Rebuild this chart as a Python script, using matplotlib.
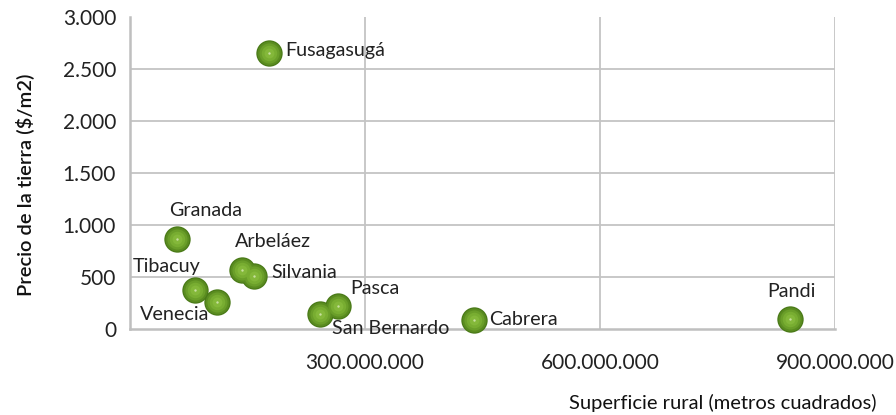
import matplotlib
matplotlib.use("Agg")
import matplotlib.pyplot as plt
from matplotlib.ticker import FuncFormatter, FixedLocator

plt.rcParams['font.family'] = ['Lato', 'DejaVu Sans']

municipios = ["Fusagasugá", "Granada", "Tibacuy", "Venecia", "Arbeláez",
              "Silvania", "San Bernardo", "Pasca", "Cabrera", "Pandi"]
superficie = [178e6, 60e6, 83e6, 111e6, 143e6, 158e6, 243e6, 266e6, 439e6, 843e6]
precio = [2650, 865, 378, 262, 570, 512, 145, 220, 85, 98]
x_ticks = [300e6, 600e6, 900e6]
y_ticks = [0, 500, 1000, 1500, 2000, 2500, 3000]

# label offsets in pixels (dx, dy, ha)
label_pos = {
    "Fusagasugá": (16, 3, "left"),
    "Granada": (29, 29, "center"),
    "Arbeláez": (31, 28, "center"),
    "Tibacuy": (-28, 23, "center"),
    "Silvania": (18, 3, "left"),
    "Venecia": (-42, -13, "center"),
    "Pasca": (37, 18, "center"),
    "San Bernardo": (70, -15, "center"),
    "Cabrera": (15, 1, "left"),
    "Pandi": (1, 27, "center"),
}

fig = plt.figure(figsize=(8.96, 4.15), dpi=100)
ax = fig.add_axes([130/896, (415-329)/415, 705/896, 312/415])
ax.set_xlim(0, 900e6)
ax.set_ylim(0, 3000)

grid_c = "#c4c4c4"
ax.xaxis.set_major_locator(FixedLocator(x_ticks))
ax.yaxis.set_major_locator(FixedLocator(y_ticks))
for xv in x_ticks:
    ax.axvline(xv, color=grid_c, lw=1.3, zorder=0)
for yv in y_ticks[1:-1]:
    ax.axhline(yv, color=grid_c, lw=1.3, zorder=0)

for s in ["top", "right"]:
    ax.spines[s].set_visible(False)
for s in ["left", "bottom"]:
    ax.spines[s].set_color("#bfbfbf")
    ax.spines[s].set_linewidth(1.8)

ax.tick_params(length=0, labelsize=15, colors="#222222")
ax.tick_params(axis='x', pad=17)
ax.tick_params(axis='y', pad=10)
ax.xaxis.set_major_formatter(FuncFormatter(lambda v, p: f"{v:,.0f}".replace(",", ".")))
ax.yaxis.set_major_formatter(FuncFormatter(lambda v, p: f"{v:,.0f}".replace(",", ".")))

# sphere-like markers
layers = [(360, "#4a7a18"), (295, "#5a8c20"), (210, "#6a9e29"), (125, "#78ad31"), (50, "#84b83a")]
for i, (s, c) in enumerate(layers):
    ax.scatter(superficie, precio, s=s, color=c, linewidths=0, zorder=3 + i, clip_on=False)
ax.scatter(superficie, precio, s=3, color="#c8e0a0", linewidths=0, zorder=10, clip_on=False)

for name, xv, yv in zip(municipios, superficie, precio):
    dx, dy, ha = label_pos[name]
    ax.annotate(name, (xv, yv), xytext=(dx, dy), textcoords="offset pixels",
                ha=ha, va="center", fontsize=14.2, color="#222222", zorder=12)

fig.text(876/896, 1 - 403/415, "Superficie rural (metros cuadrados)", ha="right", va="center",
         fontsize=14.5, color="#111111")
fig.text(25/896, 1 - 185/415, "Precio de la tierra ($/m2)", ha="center", va="center",
         rotation=90, fontsize=14.5, color="#111111", fontweight="semibold")

fig.savefig("out.png", dpi=100)
